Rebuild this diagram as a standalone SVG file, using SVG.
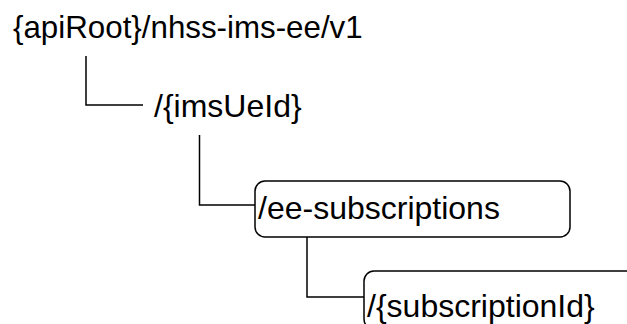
<svg xmlns="http://www.w3.org/2000/svg" width="627" height="324" viewBox="0 0 627 324">
<style>
  text { font-family: "Liberation Sans", Arial, sans-serif; font-size: 32px; fill: #000; }
  .title { font-size: 31.3px; }
  .box { fill: #fff; stroke: #000; stroke-width: 1.5; }
  .conn { fill: none; stroke: #000; stroke-width: 1.5; }
</style>
<rect x="0" y="0" width="627" height="324" fill="#fff"/>
<g id="connectors">
  <path class="conn" d="M86,56 V105 H143"/>
  <path class="conn" d="M199.5,135 V205 H255"/>
  <path class="conn" d="M307,237 V297 H364"/>
</g>
<g id="root">
  <text class="title" x="13" y="37.5">{apiRoot}/nhss-ims-ee/v1</text>
</g>
<g id="imsUeId">
  <text x="154" y="117">/{imsUeId}</text>
</g>
<g id="ee-subscriptions">
  <rect class="box" x="255" y="181" width="315" height="56" rx="10" ry="10"/>
  <text x="258" y="218.5">/ee-subscriptions</text>
</g>
<g id="subscriptionId">
  <rect class="box" x="364" y="271" width="315" height="58" rx="10" ry="10"/>
  <text x="367" y="317">/{subscriptionId}</text>
</g>
</svg>
